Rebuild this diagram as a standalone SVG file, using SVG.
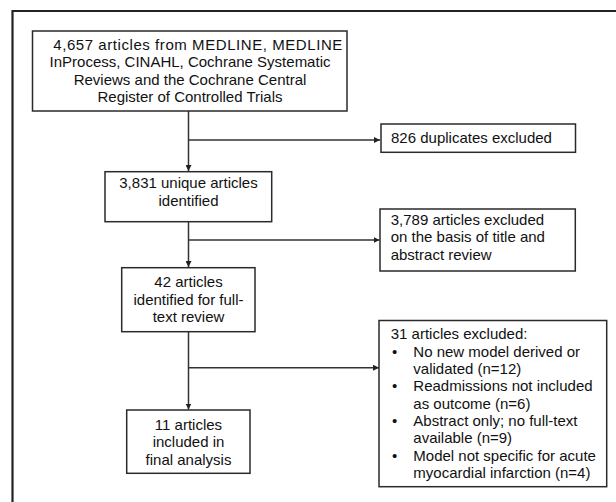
<svg xmlns="http://www.w3.org/2000/svg" width="616" height="502" viewBox="0 0 616 502">
<style>
.box{fill:#fff;stroke:#2a2a2a;stroke-width:1.5}
.t{font-family:"Liberation Sans",Arial,sans-serif;font-size:15px;fill:#111}
.c{text-anchor:middle}
.ln{fill:none;stroke:#333;stroke-width:1.5}
.frame{fill:none;stroke:#222;stroke-width:2.2}
</style>
<defs>
<marker id="ah" viewBox="0 0 8 8" refX="8" refY="4" markerWidth="6" markerHeight="6" markerUnits="userSpaceOnUse" orient="auto">
<path d="M0,0 L8,4 L0,8 z" fill="#222"/>
</marker>
</defs>
<rect width="616" height="502" fill="#fff"/>
<path class="frame" d="M12.5,502 V11 H616"/>
<g id="connectors">
<path class="ln" d="M188.5,111 V171" marker-end="url(#ah)"/>
<path class="ln" d="M188.5,140 H380" marker-end="url(#ah)"/>
<path class="ln" d="M188.5,221.7 V267" marker-end="url(#ah)"/>
<path class="ln" d="M188.5,240 H379.5" marker-end="url(#ah)"/>
<path class="ln" d="M188.5,331.7 V409.5" marker-end="url(#ah)"/>
<path class="ln" d="M188.5,367.7 H379" marker-end="url(#ah)"/>
</g>
<g id="n1">
<rect class="box" x="32.5" y="31" width="314.5" height="80"/>
<text class="t" x="53.3" y="50" textLength="289" lengthAdjust="spacing">4,657 articles from MEDLINE, MEDLINE</text>
<text class="t c" x="190" y="67.3">InProcess, CINAHL, Cochrane Systematic</text>
<text class="t c" x="190" y="84.6">Reviews and the Cochrane Central</text>
<text class="t c" x="190" y="102">Register of Controlled Trials</text>
</g>
<g id="n2">
<rect class="box" x="381" y="124" width="194.5" height="28.3"/>
<text class="t" x="391" y="143">826 duplicates excluded</text>
</g>
<g id="n3">
<rect class="box" x="105" y="171.7" width="166.7" height="50"/>
<text class="t c" x="188.5" y="188.3">3,831 unique articles</text>
<text class="t c" x="188.5" y="205.7">identified</text>
</g>
<g id="n4">
<rect class="box" x="380" y="209" width="195.3" height="62"/>
<text class="t" x="390.7" y="225">3,789 articles excluded</text>
<text class="t" x="390.7" y="242.3">on the basis of title and</text>
<text class="t" x="390.7" y="259.6">abstract review</text>
</g>
<g id="n5">
<rect class="box" x="121.7" y="267.7" width="133.3" height="64"/>
<text class="t c" x="188.5" y="287.3">42 articles</text>
<text class="t c" x="188.5" y="304.6">identified for full-</text>
<text class="t c" x="188.5" y="322">text review</text>
</g>
<g id="n6">
<rect class="box" x="379" y="320.5" width="227.7" height="166.2"/>
<text class="t" x="390.7" y="339.3">31 articles excluded:</text>
<text class="t" x="392" y="356.7">•</text><text class="t" x="413.3" y="356.7">No new model derived or</text>
<text class="t" x="413.3" y="374">validated (n=12)</text>
<text class="t" x="392" y="391.3">•</text><text class="t" x="413.3" y="391.3">Readmissions not included</text>
<text class="t" x="413.3" y="408.6">as outcome (n=6)</text>
<text class="t" x="392" y="426">•</text><text class="t" x="413.3" y="426">Abstract only; no full-text</text>
<text class="t" x="413.3" y="443.3">available (n=9)</text>
<text class="t" x="392" y="460.6">•</text><text class="t" x="413.3" y="460.6">Model not specific for acute</text>
<text class="t" x="413.3" y="478">myocardial infarction (n=4)</text>
</g>
<g id="n7">
<rect class="box" x="126.7" y="410" width="123.3" height="63.3"/>
<text class="t c" x="188.5" y="430">11 articles</text>
<text class="t c" x="188.5" y="447.3">included in</text>
<text class="t c" x="188.5" y="464.6">final analysis</text>
</g>
</svg>
